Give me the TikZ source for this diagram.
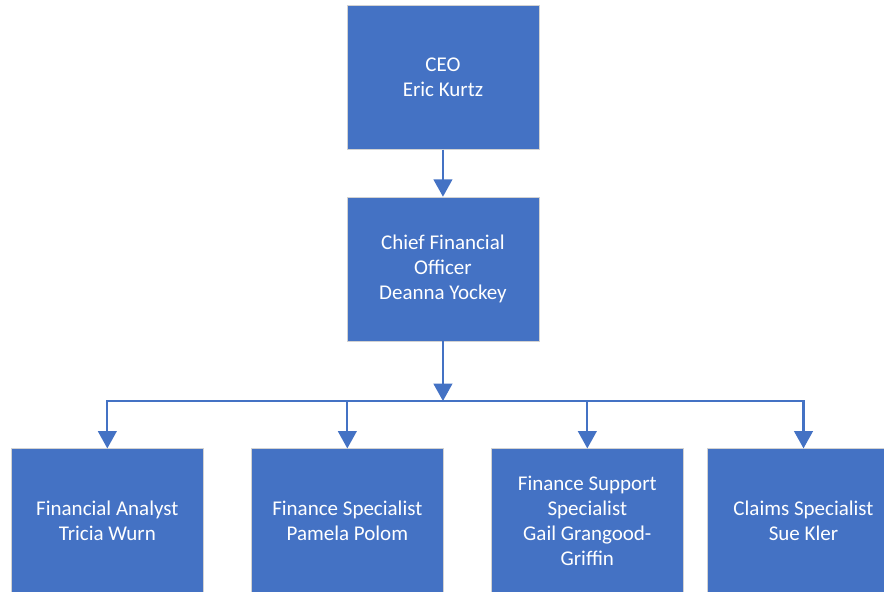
\documentclass[tikz,border=0pt]{standalone}
\usepackage{fontspec}
\setmainfont{Carlito}
\usepackage{tikz}
\usetikzlibrary{positioning,arrows.meta}
\definecolor{orgblue}{RGB}{68,114,196}

\tikzset{
  orgbox/.style={rectangle, fill=orgblue, draw=gray!35, line width=0.6pt,
    minimum width=5.08cm, minimum height=3.81cm, text=white, align=center,
    font=\fontsize{15.8}{19}\selectfont},
  conn/.style={draw=orgblue, line width=1.6pt, -{Triangle[width=14pt,length=13pt]}}
}

\begin{document}
\begin{tikzpicture}

% page frame
\useasboundingbox (0,0) rectangle (23.39,-15.64);
\clip (0,0) rectangle (23.39,-15.64);

% Top levels
\node[orgbox] (ceo) at (11.72, -2.04) {CEO\\Eric Kurtz};
\node[orgbox] (cfo) at (11.72, -7.12) {Chief Financial\\Officer\\Deanna Yockey};

% Bottom row
\node[orgbox] (fa)  at (2.84, -13.78)  {Financial Analyst\\Tricia Wurn};
\node[orgbox] (fs)  at (9.19, -13.78)  {Finance Specialist\\Pamela Polom};
\node[orgbox] (fss) at (15.54, -13.78) {Finance Support\\Specialist\\Gail Grangood-\\Griffin};
\node[orgbox] (cs)  at (21.26, -13.78) {Claims Specialist\\Sue Kler};

% Connectors
\coordinate (bus) at (11.72, -10.61);
\draw[conn] (ceo) -- (cfo);
\draw[conn] (cfo) -- (bus);
\draw[conn] (bus) -| (fa);
\draw[conn] (bus) -| (cs);
\foreach \n in {fs, fss} {
    \draw[conn] (\n |- bus) -- (\n);
}

\end{tikzpicture}
\end{document}
